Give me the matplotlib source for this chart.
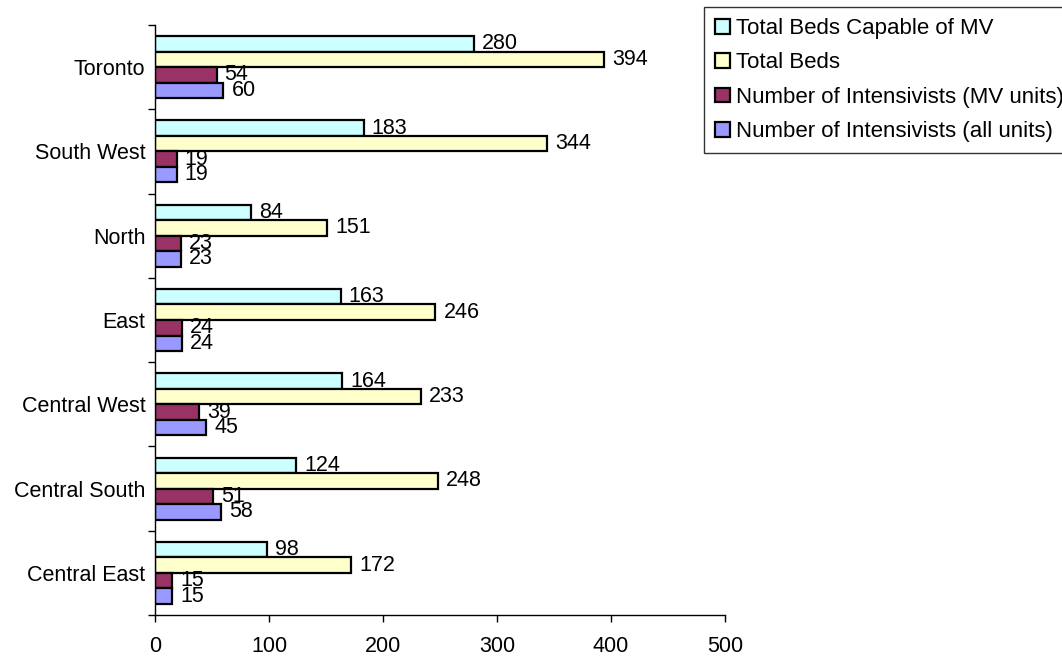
import numpy as np
import matplotlib
matplotlib.use('Agg')
import matplotlib.pyplot as plt
from matplotlib.ticker import FixedLocator

plt.rcParams['font.family'] = ['Liberation Sans', 'DejaVu Sans']
FS = 15.5

# Regions, bottom to top
regions = ['Central East', 'Central South', 'Central West', 'East',
           'North', 'South West', 'Toronto']

beds_mv = [98, 124, 164, 163, 84, 183, 280]
beds_total = [172, 248, 233, 246, 151, 344, 394]
intens_mv = [15, 51, 39, 24, 23, 19, 54]
intens_all = [15, 58, 45, 24, 23, 19, 60]

series = [
    ('Total Beds Capable of MV', beds_mv, '#CCFFFF'),
    ('Total Beds', beds_total, '#FFFFCC'),
    ('Number of Intensivists (MV units)', intens_mv, '#993366'),
    ('Number of Intensivists (all units)', intens_all, '#9999FF'),
]

fig = plt.figure(figsize=(10.62, 6.57), dpi=100)
ax = fig.add_axes([155 / 1062, 1 - 615 / 657, 570 / 1062, 590 / 657])

y = np.arange(len(regions))
h = 0.184
offsets = [1.5 * h, 0.5 * h, -0.5 * h, -1.5 * h]

for (name, vals, col), off in zip(series, offsets):
    bars = ax.barh(y + off, vals, height=h, color=col, edgecolor='black',
                   linewidth=1.6, label=name)
    for b, v in zip(bars, vals):
        ax.text(b.get_width() + 7, b.get_y() + b.get_height() / 2, str(v),
                va='center', ha='left', fontsize=FS)

ax.set_xlim(0, 500)
ax.set_ylim(-0.5, len(regions) - 0.5)
ax.set_xticks(np.arange(0, 501, 100))
ax.set_yticks(y)
ax.set_yticklabels(regions)
ax.yaxis.set_minor_locator(FixedLocator(np.arange(-0.5, len(regions), 1)))

for s in ['top', 'right']:
    ax.spines[s].set_visible(False)
for s in ['left', 'bottom']:
    ax.spines[s].set_linewidth(1.0)

ax.tick_params(axis='y', which='major', length=0, pad=7, labelsize=FS)
ax.tick_params(axis='y', which='minor', length=5, width=1.0, direction='out')
ax.tick_params(axis='x', which='major', length=5, width=1.0, direction='out',
               pad=10, labelsize=FS)

fig.legend(loc='upper left', bbox_to_anchor=(704 / 1062, 1 - 7 / 657),
           fontsize=16, frameon=True, fancybox=False, edgecolor='black',
           handlelength=0.65, handleheight=0.65, handletextpad=0.3,
           labelspacing=0.6, borderpad=0.5, borderaxespad=0)

fig.savefig('out.png', dpi=100)
